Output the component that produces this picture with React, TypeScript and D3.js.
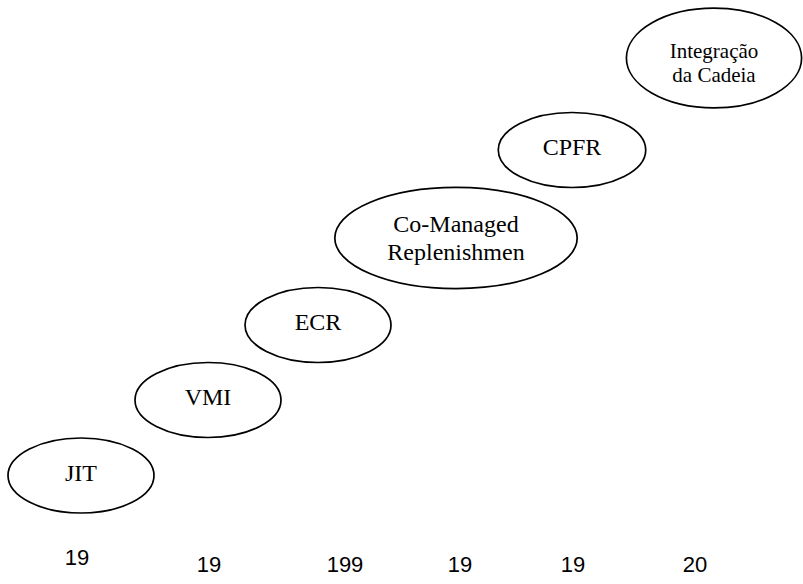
import React, { useRef, useEffect } from 'react';
import * as d3 from 'd3';

// stages of supply-chain integration (bottom-left to top-right)
const stages = ['JIT', 'VMI', 'ECR', 'Co-Managed\nReplenishmen', 'CPFR', 'Integração\nda Cadeia'];
// horizontal position of each stage (chart units) and its height level
const stageX = [81, 208, 318, 456, 572, 714];
const stageLevel = [108.5, 184, 259, 346, 434, 526];
// relative size of each bubble (1 = small)
const stageWidth = [1, 1, 1, 1.66, 1.01, 1.2];
const stageHeight = [1, 1, 1, 1.35, 1, 1.33];

// truncated year labels along the bottom
const yearLabels = ['19', '19', '199', '19', '19', '20'];
const yearX = [77, 209, 345, 460, 573, 695];
const yearDrop = [0, 1, 1, 1, 1, 1];

const App = () => {
  const svgRef = useRef(null);
  const width = 803;
  const height = 584;

  useEffect(() => {
    const svg = d3.select(svgRef.current);
    svg.selectAll('*').remove();

    const x = d3.scaleLinear().domain([0, 803]).range([0, width]);
    const y = d3.scaleLinear().domain([0, 584]).range([height, 0]);
    const baseRx = 73;
    const baseRy = 37.5;

    const g = svg.append('g');

    const nodes = g.selectAll('g.stage')
      .data(stages.map((s, i) => ({ label: s, i })))
      .join('g')
      .attr('class', 'stage')
      .attr('transform', d => `translate(${x(stageX[d.i])}, ${y(stageLevel[d.i])})`);

    nodes.append('ellipse')
      .attr('rx', d => baseRx * stageWidth[d.i])
      .attr('ry', d => baseRy * stageHeight[d.i])
      .attr('fill', 'white')
      .attr('stroke', '#000')
      .attr('stroke-width', 1.7);

    nodes.each(function (d) {
      const lines = d.label.split('\n');
      const small = d.i === 5;
      const lh = small ? 24 : 28;
      const first = lines.length === 1 ? 5 : (small ? 0 : -6);
      const t = d3.select(this).append('text')
        .attr('text-anchor', 'middle')
        .style('font-family', '"Liberation Serif", "Times New Roman", serif')
        .style('font-size', small ? '21px' : '24px')
        .style('fill', '#000');
      lines.forEach((line, k) => {
        t.append('tspan')
          .attr('x', 0)
          .attr('y', first + k * lh)
          .text(line);
      });
    });

    // year labels
    g.selectAll('text.year')
      .data(yearLabels)
      .join('text')
      .attr('class', 'year')
      .attr('x', (d, i) => x(yearX[i]))
      .attr('y', (d, i) => 565 + yearDrop[i] * 7)
      .attr('text-anchor', 'middle')
      .style('font-family', '"Liberation Sans", Arial, sans-serif')
      .style('font-size', '22px')
      .style('fill', '#000')
      .text(d => d);
  }, []);

  return (
    <svg ref={svgRef} width={width} height={height}
      style={{ position: 'absolute', left: 0, top: 0, background: 'white' }} />
  );
};

export default App;
